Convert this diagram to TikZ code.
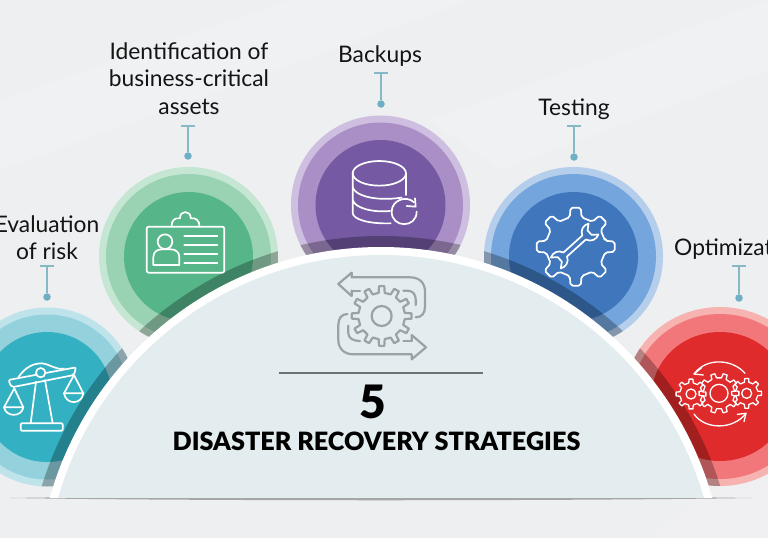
\documentclass[tikz,border=0pt]{standalone}
\usepackage{fontspec}
\setmainfont{Lato}
\newfontfamily\heavy{Lato Black}
\definecolor{bgc}{HTML}{EEEFF1}
\definecolor{domec}{HTML}{E3ECEF}
\definecolor{stemc}{HTML}{86B8C6}
\definecolor{stemd}{HTML}{6FAFC4}
\definecolor{icong}{HTML}{9AA2A6}
\newcommand{\gearpath}[6]{% cx cy rin rout n rot
  \pgfmathsetmacro{\gstep}{360/#5}
  \pgfmathsetmacro{\gq}{\gstep/6}
  \pgfmathsetmacro{\gn}{int(#5-1)}
  \draw[#6] ({#1+#3*cos(-1.5*\gq)},{#2+#3*sin(-1.5*\gq)})
    \foreach \gi in {0,...,\gn}{
      -- ({#1+#4*cos(\gi*\gstep-\gq)},{#2+#4*sin(\gi*\gstep-\gq)})
      -- ({#1+#4*cos(\gi*\gstep+\gq)},{#2+#4*sin(\gi*\gstep+\gq)})
      -- ({#1+#3*cos(\gi*\gstep+1.5*\gq)},{#2+#3*sin(\gi*\gstep+1.5*\gq)})
      -- ({#1+#3*cos((\gi+1)*\gstep-1.5*\gq)},{#2+#3*sin((\gi+1)*\gstep-1.5*\gq)})
    } -- cycle;
}
\tikzset{
  lbl/.style={font=\fontsize{22.8}{27.3}\selectfont, align=center, text=black!92, inner sep=0pt},
  icon/.style={draw=white, line width=1.7pt, line join=round, line cap=round},
  cicon/.style={draw=icong, line width=2.2pt, line join=round, line cap=round},
  stemline/.style={draw=stemc, line width=1.9pt},
  stemdot/.style={circle, fill=stemd, minimum size=7.5pt, inner sep=0pt}
}
\newcommand{\dxs}{1}
\newcommand{\disc}[6]{% cx cy inner colours
  \fill[#4] (#1,#2) ellipse ({\dxs*89.5} and 89.5);
  \fill[#5] (#1,#2) ellipse ({\dxs*82.5} and 82.5);
  \fill[#6] (#1,#2) ellipse ({\dxs*#3} and #3);
  \begin{scope}
    \clip (#1,#2) ellipse ({\dxs*89.5} and 89.5);
    \fill[black,opacity=.27] (381,591) circle (355);
  \end{scope}
}
\newcommand{\stem}[4]{% name x ytop ydot
  \coordinate (#1t) at (#2,#3);
  \node[stemdot] (#1d) at (#2,#4) {};
  \draw[stemline] (#1t) -- (#1d);
  \draw[stemline] (#2-7,#3) -- (#2+7,#3);
}
\begin{document}
\begin{tikzpicture}[x=1pt,y=-1pt]
\useasboundingbox (0,0) rectangle (768,538);
\clip (0,0) rectangle (768,538);
\fill[bgc] (0,0) rectangle (768,538);
% faint facets
\fill[white,opacity=.16] (0,100) -- (290,0) -- (470,0) -- (0,170) -- cycle;
\fill[white,opacity=.16] (430,120) -- (768,0) -- (768,70) -- (500,170) -- cycle;
\fill[white,opacity=.12] (650,538) -- (768,440) -- (768,538) -- cycle;
% discs
\definecolor{c1a}{HTML}{BFE3EA}\definecolor{c1b}{HTML}{93D1DC}\definecolor{c1c}{HTML}{33B0C2}
\definecolor{c2a}{HTML}{C5E6D3}\definecolor{c2b}{HTML}{9AD3B4}\definecolor{c2c}{HTML}{56B68A}
\definecolor{c3a}{HTML}{CEBFE0}\definecolor{c3b}{HTML}{A98FC6}\definecolor{c3c}{HTML}{7559A3}
\definecolor{c4a}{HTML}{B5CEEB}\definecolor{c4b}{HTML}{74A5DC}\definecolor{c4c}{HTML}{3F76BC}
\definecolor{c5a}{HTML}{F7B3B0}\definecolor{c5b}{HTML}{F2777A}\definecolor{c5c}{HTML}{DF2B2B}
\disc{47}{397}{65}{c1a}{c1b}{c1c}
\disc{188.5}{256.5}{64.5}{c2a}{c2b}{c2c}
\disc{380.5}{205}{65}{c3a}{c3b}{c3c}
\disc{573.5}{256.5}{64.5}{c4a}{c4b}{c4c}
\renewcommand{\dxs}{1.06}
\disc{720}{396.5}{64.5}{c5a}{c5b}{c5c}
% base shadow
\fill[black!35] (10,498) .. controls (200,495) and (560,495) .. (752,498) .. controls (560,501) and (200,501) .. (10,498) -- cycle;
% dome
\begin{scope}
  \clip (0,0) rectangle (768,497);
  \fill[white] (381,591) circle (344);
  \fill[domec] (381,591) circle (336);
\end{scope}
% stems
\stem{a}{47}{266}{297}
\stem{b}{188}{126}{156}
\stem{c}{381}{73}{104}
\stem{d}{574}{126}{157}
\stem{e}{739}{266}{298}
% labels
\node[lbl] (la) at (47,237.5) {Evaluation\\of risk};
\node[lbl] (lb) at (189,78.5) {Identification of\\business-critical\\assets};
\node[lbl] (lc) at (380,56) {Backups};
\node[lbl] (ld) at (574,109) {Testing};
\node[lbl,anchor=west] (le) at (674,249) {Optimization};
% scales
\begin{scope}[shift={(0,280)},scale=1/3]
 \draw[icon,rounded corners=1pt] (62,430) rectangle (188,452);
 \draw[icon] (108,305) -- (92,430) (135,300) -- (158,430);
 \draw[icon,rounded corners=2pt] (25,300) -- (228,262) -- (222,285) -- (35,322) -- cycle;
 \draw[icon] (55,292) .. controls (75,262) and (100,250) .. (125,250) .. controls (150,252) and (165,270) .. (192,266);
 \draw[icon,fill=c1c] (122,278) circle (14);
 \draw[icon] (43,325) -- (12,382) (43,325) -- (70,382);
 \draw[icon] (12,382) -- (70,382) .. controls (65,412) and (18,412) .. (12,382) -- cycle;
 \draw[icon] (222,285) -- (192,340) (222,285) -- (250,340);
 \draw[icon] (192,340) -- (250,340) .. controls (245,375) and (198,375) .. (192,340) -- cycle;
\end{scope}
% id card
\begin{scope}[shift={(100,160)},scale=1/3]
 \draw[icon,rounded corners=2pt] (140,200) rectangle (373,338);
 \draw[icon] (215,200) .. controls (213,182) and (225,172) .. (240,175) .. controls (238,150) and (274,150) .. (272,175) .. controls (287,172) and (300,182) .. (298,200);
 \draw[icon] (195,245) circle (22);
 \draw[icon] (160,315) -- (160,292) .. controls (160,275) and (172,268) .. (185,268) -- (212,268) .. controls (226,268) and (238,275) .. (238,292) -- (238,315) -- cycle;
 \foreach \yy in {228,255,283,310}{\draw[icon] (253,\yy) -- (352,\yy);}
\end{scope}
% database
\begin{scope}[shift={(290,100)},scale=1/3]
 \draw[icon] (268,220) ellipse (80 and 37);
 \draw[icon] (188,220) -- (188,338) .. controls (188,358) and (235,372) .. (302,370);
 \draw[icon] (348,220) -- (348,285);
 \draw[icon] (188,262) .. controls (195,285) and (250,305) .. (335,293);
 \draw[icon] (188,300) .. controls (195,325) and (250,338) .. (300,333);
 \draw[icon] (372,307) .. controls (350,285) and (305,300) .. (305,335) .. controls (305,385) and (380,385) .. (380,335);
 \draw[icon] (375,295) -- (377,320) -- (350,318);
\end{scope}
% gear wrench
\begin{scope}[shift={(480,160)},scale=1/3]
 \gearpath{287}{260}{90}{118}{8}{icon,rounded corners=2pt}
 \begin{scope}[shift={(284,258)},rotate=42]
  \draw[icon] (-38,-8) -- (38,-8) .. controls (44,-24) and (62,-30) .. (76,-22) -- (60,-9) -- (60,9) -- (76,22) .. controls (62,30) and (44,24) .. (38,8) -- (-38,8) .. controls (-44,24) and (-62,30) .. (-76,22) -- (-60,9) -- (-60,-9) -- (-76,-22) .. controls (-62,-30) and (-44,-24) .. (-38,-8) -- cycle;
 \end{scope}
\end{scope}
% three gears
\begin{scope}[shift={(620,300)},scale=1/3]
 \tikzset{icont/.style={icon,line width=1.3pt}}
 \gearpath{297}{280}{47}{60}{10}{icont}
 \draw[icont] (297,280) circle (27);
 \gearpath{213}{282}{34}{45}{8}{icont}
 \draw[icont] (213,282) circle (15);
 \gearpath{380}{280}{34}{45}{8}{icont}
 \draw[icont] (380,280) circle (15);
 \draw[icont] (375,220) .. controls (340,178) and (260,170) .. (222,222);
 \draw[icont] (245,203) -- (222,222) -- (250,225);
 \draw[icont] (222,342) .. controls (255,390) and (340,390) .. (378,340);
 \draw[icont] (352,343) -- (378,340) -- (372,365);
\end{scope}
% central icon
\begin{scope}[shift={(270,260)},scale=1/3]
 \gearpath{335}{168}{70}{90}{12}{cicon}
 \draw[cicon] (335,168) circle (30);
 \draw[cicon] (245,92) -- (245,108) -- (205,72) -- (245,38) -- (245,52) -- (420,52) .. controls (450,52) and (465,70) .. (465,95) -- (465,140) .. controls (465,160) and (455,172) .. (437,172);
 \draw[cicon] (245,92) -- (270,92);
 \draw[cicon] (400,92) -- (412,92) .. controls (430,92) and (437,105) .. (437,118) -- (437,135);
 \draw[cicon] (425,243) -- (425,225) -- (468,262) -- (425,298) -- (425,283) -- (250,283) .. controls (222,283) and (205,265) .. (205,240) -- (205,195) .. controls (205,175) and (215,162) .. (232,162);
 \draw[cicon] (425,243) -- (400,243);
 \draw[cicon] (235,197) -- (235,220) .. controls (235,235) and (250,243) .. (270,243);
\end{scope}
% rule & title
\coordinate (r1) at (279,373);
\coordinate (r2) at (483,373);
\draw[draw=black!30!icong,line width=1.6pt] (r1) -- (r2);
\node[font=\heavy\fontsize{46}{46}\selectfont,text=black,inner sep=0pt] (five) at (373,402) {5};
\node[font=\heavy\fontsize{25.2}{25.2}\selectfont,text=black,inner sep=0pt] (title) at (376.5,441) {DISASTER RECOVERY STRATEGIES};
\end{tikzpicture}
\end{document}
